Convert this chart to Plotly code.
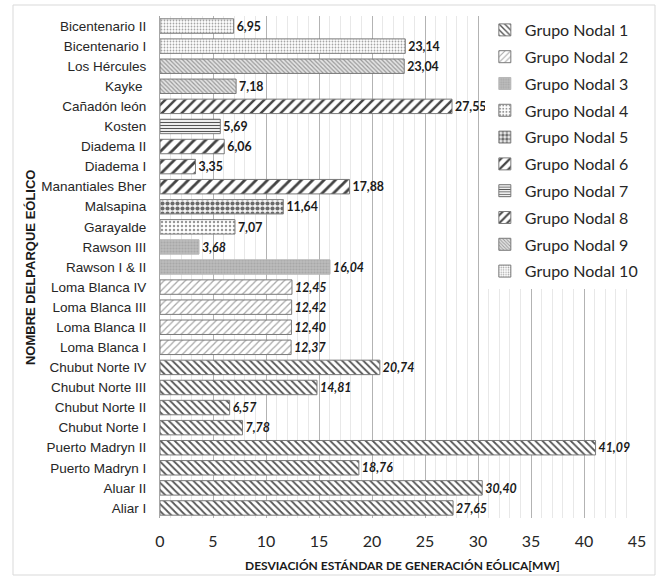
import plotly.graph_objects as go

# Categories from bottom to top
parks = ["Aliar I", "Aluar II", "Puerto Madryn I", "Puerto Madryn II",
         "Chubut Norte I", "Chubut Norte II", "Chubut Norte III", "Chubut Norte IV",
         "Loma Blanca I", "Loma Blanca II", "Loma Blanca III", "Loma Blanca IV",
         "Rawson I & II", "Rawson III", "Garayalde", "Malsapina",
         "Manantiales Bher", "Diadema I", "Diadema II", "Kosten",
         "Cañadón león", "Kayke ", "Los Hércules", "Bicentenario I", "Bicentenario II"]
values = [27.65, 30.40, 18.76, 41.09,
          7.78, 6.57, 14.81, 20.74,
          12.37, 12.40, 12.42, 12.45,
          16.04, 3.68, 7.07, 11.64,
          17.88, 3.35, 6.06, 5.69,
          27.55, 7.18, 23.04, 23.14, 6.95]
groups = [1, 1, 1, 1,
          1, 1, 1, 1,
          2, 2, 2, 2,
          3, 3, 4, 5,
          6, 6, 6, 7,
          8, 9, 9, 10, 10]
group_names = ["Grupo Nodal %d" % i for i in range(1, 11)]
italic_groups = [1, 2, 3]

patterns = {
    1: dict(shape="\\", fgcolor="#555555", bgcolor="white", size=5, solidity=0.35),
    2: dict(shape="/", fgcolor="#a8a8a8", bgcolor="white", size=5, solidity=0.25),
    3: dict(shape=".", fgcolor="#a8a8a8", bgcolor="#bcbcbc", size=3, solidity=0.4),
    4: dict(shape=".", fgcolor="#999999", bgcolor="white", size=4, solidity=0.3),
    5: dict(shape=".", fgcolor="#6a6a6a", bgcolor="#f4f4f4", size=5, solidity=0.55),
    6: dict(shape="/", fgcolor="#444444", bgcolor="white", size=8, solidity=0.35),
    7: dict(shape="-", fgcolor="#555555", bgcolor="white", size=3, solidity=0.4),
    8: dict(shape="/", fgcolor="#444444", bgcolor="white", size=7, solidity=0.35),
    9: dict(shape="\\", fgcolor="#9a9a9a", bgcolor="#e4e4e4", size=3, solidity=0.4),
    10: dict(shape=".", fgcolor="#a5a5a5", bgcolor="white", size=3, solidity=0.28),
}
line_colors = {3: "#b8b8b8", 5: "#888888"}

def fmt(v, g):
    s = ("%.2f" % v).replace(".", ",")
    return "<b><i>%s</i></b>" % s if g in italic_groups else "<b>%s</b>" % s

fig = go.Figure()
for gi, gname in enumerate(group_names, start=1):
    ys = [p for p, g in zip(parks, groups) if g == gi]
    xs = [v for v, g in zip(values, groups) if g == gi]
    txt = [fmt(v, gi) for v in xs]
    fig.add_trace(go.Bar(
        x=xs, y=ys, orientation="h", name=gname,
        legendgroup=gname,
        text=txt, textposition="outside", cliponaxis=False,
        textfont=dict(family="Lato", size=14.5, color="#1a1a1a"),
        marker=dict(pattern=dict(fillmode="replace", **patterns[gi]),
                    line=dict(color=line_colors.get(gi, "#7a7a7a"), width=1)),
    ))

fig.update_layout(
    width=659, height=577,
    margin=dict(l=160, r=22, t=16, b=59),
    paper_bgcolor="white", plot_bgcolor="white",
    barmode="overlay", bargap=0.28,
    showlegend=True,
    legend=dict(x=0.681, y=1.006, xanchor="left", yanchor="top",
                bgcolor="white", tracegroupgap=3,
                font=dict(family="Lato", size=16, color="#262626")),
    xaxis=dict(range=[0, 45], dtick=5, tick0=0,
               showgrid=True, gridcolor="#b3b3b3", gridwidth=1,
               minor=dict(dtick=1, showgrid=True, gridcolor="#e8e8e8"),
               zeroline=False, showline=False,
               ticklabelstandoff=12,
               tickfont=dict(family="Lato", size=16, color="#262626")),
    yaxis=dict(type="category", categoryorder="array", categoryarray=parks,
               showgrid=False, showline=True, linecolor="#a6a6a6",
               ticks="", ticklabelstandoff=10,
               tickfont=dict(family="Liberation Sans", size=13.5, color="#262626")),
    annotations=[
        dict(text="<b>DESVIACIÓN ESTÁNDAR DE GENERACIÓN EÓLICA[MW]</b>",
             xref="paper", yref="paper", x=0.509, y=-0.094, showarrow=False,
             xanchor="center", yanchor="middle",
             font=dict(family="Lato", size=12, color="#1a1a1a")),
        dict(text="<b>NOMBRE DELPARQUE EÓLICO</b>", textangle=-90,
             xref="paper", yref="paper", x=-0.2725, y=0.5, showarrow=False,
             xanchor="center", yanchor="middle",
             font=dict(family="Liberation Sans", size=13, color="#1a1a1a")),
    ],
    shapes=[dict(type="rect", xref="paper", yref="paper",
                 x0=(13 - 160) / 477, x1=(655 - 160) / 477,
                 y0=(518 - 575) / 502, y1=(518 - 5) / 502,
                 line=dict(color="#d9d9d9", width=1), layer="below")],
)

fig.write_html("out.html")
